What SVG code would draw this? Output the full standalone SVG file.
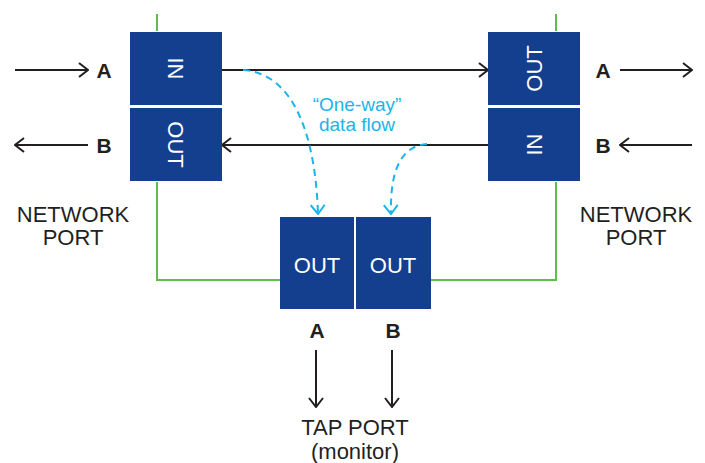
<svg xmlns="http://www.w3.org/2000/svg" width="705" height="463" viewBox="0 0 705 463">
<style>
.box{fill:#143f8f;}
.lbl{font-family:"Liberation Sans",Arial,sans-serif;font-size:22px;fill:#ffffff;text-anchor:middle;}
.txt{font-family:"Liberation Sans",Arial,sans-serif;font-size:22px;fill:#231f20;text-anchor:middle;}
.bold{font-family:"Liberation Sans",Arial,sans-serif;font-size:21px;font-weight:bold;fill:#231f20;text-anchor:middle;}
.flowtxt{font-family:"Liberation Sans",Arial,sans-serif;font-size:19px;fill:#1cb4e8;text-anchor:middle;}
.line{fill:none;stroke:#231f20;stroke-width:2;}
.green{fill:none;stroke:#5cbf4c;stroke-width:2;}
.dash{fill:none;stroke:#1cb4e8;stroke-width:2;stroke-dasharray:7 5;}
</style>
<defs>
<marker id="ah" markerUnits="userSpaceOnUse" viewBox="0 0 11 16" markerWidth="11" markerHeight="16" refX="10" refY="8" orient="auto">
<path d="M1,1 L10,8 L1,15" fill="none" stroke="#231f20" stroke-width="2"/>
</marker>
<marker id="ahc" markerUnits="userSpaceOnUse" viewBox="0 0 11 16" markerWidth="11" markerHeight="16" refX="10" refY="8" orient="auto">
<path d="M1,1 L10,8 L1,15" fill="none" stroke="#1cb4e8" stroke-width="2"/>
</marker>
</defs>

<g id="connectors">
<path class="green" d="M157,14 V31"/>
<path class="green" d="M157,182 V280 H280"/>
<path class="green" d="M556,14 V31"/>
<path class="green" d="M556,182 V280 H431"/>
<line class="line" x1="15" y1="70" x2="88" y2="70" marker-end="url(#ah)"/>
<line class="line" x1="88" y1="145" x2="15" y2="145" marker-end="url(#ah)"/>
<line class="line" x1="620" y1="70" x2="692" y2="70" marker-end="url(#ah)"/>
<line class="line" x1="692" y1="145" x2="620" y2="145" marker-end="url(#ah)"/>
<line class="line" x1="222" y1="70" x2="488" y2="70" marker-end="url(#ah)"/>
<line class="line" x1="488" y1="145" x2="222" y2="145" marker-end="url(#ah)"/>
<path class="dash" d="M243,70 C300,74 316,150 318,214" marker-end="url(#ahc)"/>
<path class="dash" d="M427,144 C400,146 390,172 391,214" marker-end="url(#ahc)"/>
<line class="line" x1="316" y1="350" x2="316" y2="407" marker-end="url(#ah)"/>
<line class="line" x1="392" y1="350" x2="392" y2="407" marker-end="url(#ah)"/>
</g>

<g id="left-in">
<rect class="box" x="130" y="32" width="92" height="73"/>
<text class="lbl" transform="translate(176,68.5) rotate(90)" y="8">IN</text>
</g>
<g id="left-out">
<rect class="box" x="130" y="108" width="92" height="73"/>
<text class="lbl" transform="translate(176,144.5) rotate(90)" y="8">OUT</text>
</g>
<g id="right-out">
<rect class="box" x="488" y="32" width="92" height="73"/>
<text class="lbl" transform="translate(534,68.5) rotate(-90)" y="8">OUT</text>
</g>
<g id="right-in">
<rect class="box" x="488" y="108" width="92" height="73"/>
<text class="lbl" transform="translate(534,144.5) rotate(-90)" y="8">IN</text>
</g>
<g id="tap-out-a">
<rect class="box" x="280" y="217" width="74" height="92"/>
<text class="lbl" x="317" y="273">OUT</text>
</g>
<g id="tap-out-b">
<rect class="box" x="356" y="217" width="75" height="92"/>
<text class="lbl" x="393" y="273">OUT</text>
</g>

<g id="labels">
<text class="bold" x="104" y="78">A</text>
<text class="bold" x="104" y="153">B</text>
<text class="bold" x="603" y="78">A</text>
<text class="bold" x="603" y="153">B</text>
<text class="bold" x="317" y="338">A</text>
<text class="bold" x="393" y="338">B</text>
<text class="txt" x="73" y="222">NETWORK</text>
<text class="txt" x="73" y="245">PORT</text>
<text class="txt" x="636" y="222">NETWORK</text>
<text class="txt" x="636" y="245">PORT</text>
<text class="txt" x="355" y="435">TAP PORT</text>
<text class="txt" x="355" y="459">(monitor)</text>
<text class="flowtxt" x="357" y="111">“One-way”</text>
<text class="flowtxt" x="357" y="131">data flow</text>
</g>
</svg>
